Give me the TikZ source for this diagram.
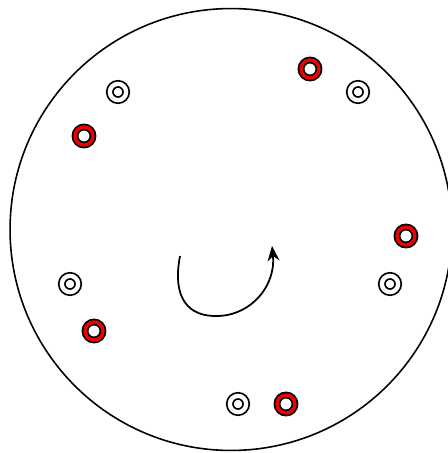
\documentclass[tikz,border=0pt]{standalone}
\usepackage{amsmath, amssymb}
\usepackage{xcolor}
\usepackage{tikz}
\usetikzlibrary{arrows.meta}
\definecolor{RingRed}{HTML}{F20000}

\begin{document}
\begin{tikzpicture}[x=0.02cm, y=-0.02cm,
    redring/.style={circle, draw=black, line width=1pt, double=RingRed, double distance=0.066cm, inner sep=0pt, minimum size=0.36cm},
    blackring/.style={circle, draw=black, line width=1pt, double=white, double distance=0.086cm, inner sep=0pt, minimum size=0.326cm}]
    \useasboundingbox (0,0) rectangle (448,453);

    % Drawing the disk
    \node[circle, draw, line width=0.9pt, minimum size=8.84cm, inner sep=0pt] (disk) at (231,229.5) {};

    % Drawing the red rings
    \node[redring] (red1) at (310,69) {};
    \node[redring] (red2) at (84,136) {};
    \node[redring] (red3) at (406,236) {};
    \node[redring] (red4) at (94,331) {};
    \node[redring] (red5) at (286,404) {};

    % Drawing the black rings
    \node[blackring] (black1) at (118,92) {};
    \node[blackring] (black2) at (358,92) {};
    \node[blackring] (black3) at (70,284) {};
    \node[blackring] (black4) at (390,284) {};
    \node[blackring] (black5) at (238,404) {};

    % Drawing the turning arrow
    \coordinate (turnstart) at (180,256);
    \coordinate (turnlow) at (218,316);
    \coordinate (turntip) at (272,246);
    \draw[line width=1pt, -{Stealth[length=0.3cm, width=0.24cm]}]
    (turnstart) .. controls (172,298) and (188,317) .. (turnlow)
    .. controls (252,315) and (276,285) .. (turntip);
\end{tikzpicture}
\end{document}
